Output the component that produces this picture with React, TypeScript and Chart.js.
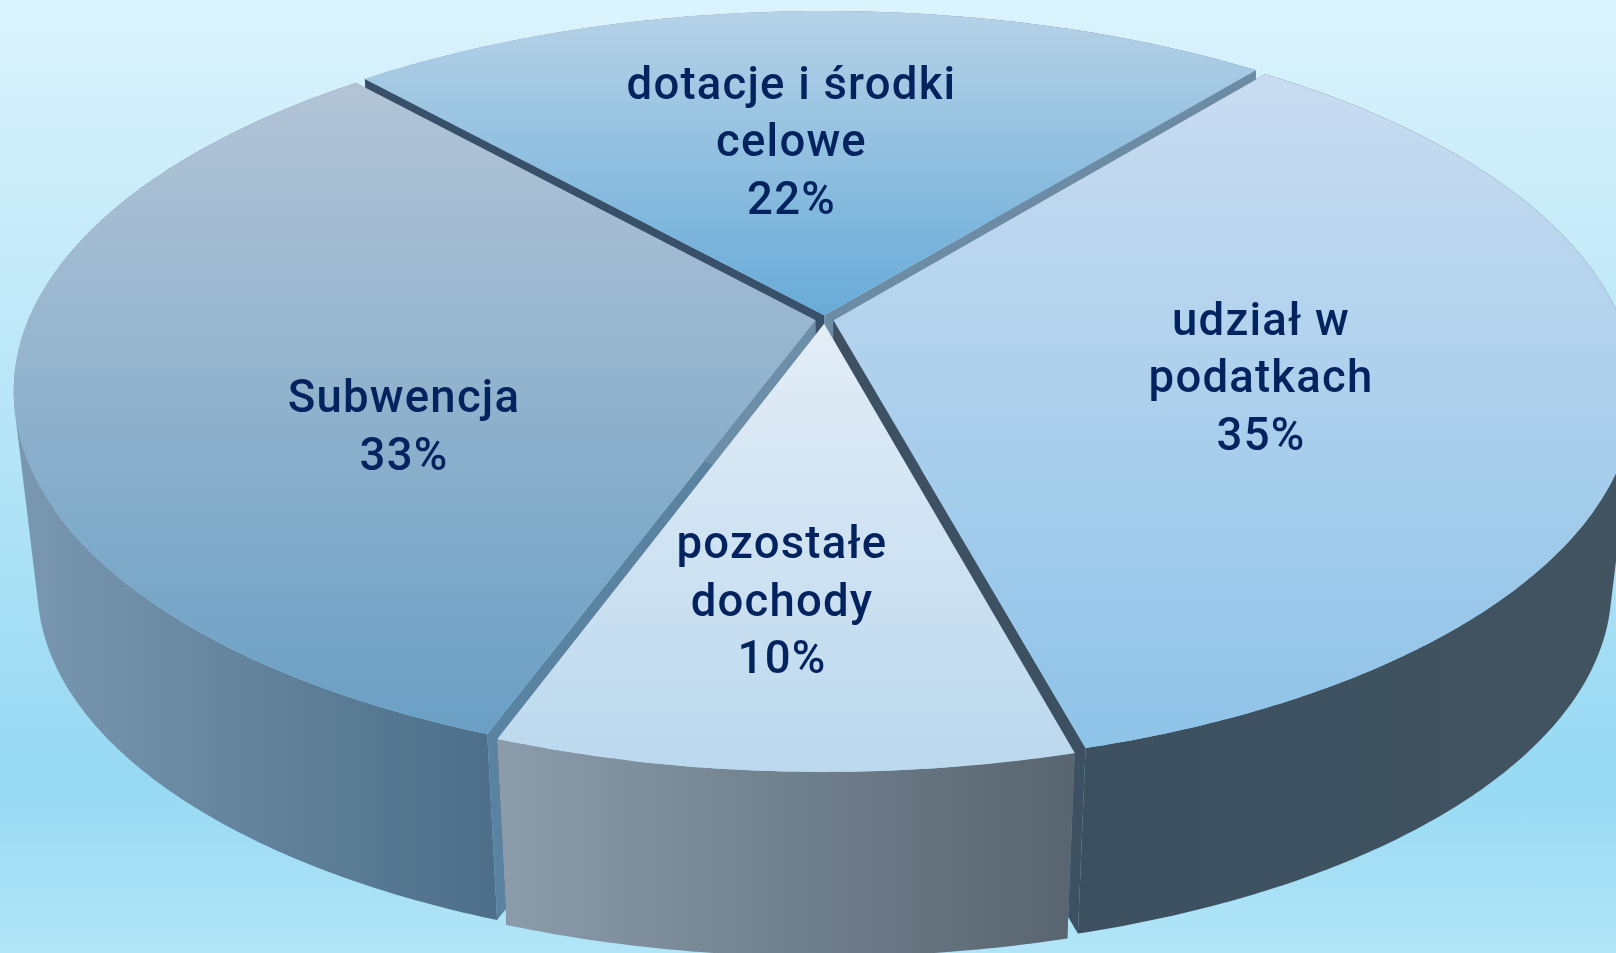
import React, { useEffect, useRef } from "react";
import { Chart, registerables } from "chart.js";

Chart.register(...registerables);

const categories = ["dotacje i środki celowe", "udział w podatkach", "pozostałe dochody", "Subwencja"];
const shares = [22.45, 34.97, 9.74, 32.84];
const labelLines = [
  ["dotacje i środki", "celowe", "22%"],
  ["udział w", "podatkach", "35%"],
  ["pozostałe", "dochody", "10%"],
  ["Subwencja", "33%"],
];
const labelCentres = [
  [791.5, 145],
  [1261, 381],
  [782, 604.5],
  [404, 429.5],
];
const topColours = [
  ["#b6d2e7", "#68abd8"],
  ["#c9dcf1", "#8ec3e8"],
  ["#e3edf6", "#bbd8ee"],
  ["#b3c4d6", "#6a9fc4"],
];
const wallColours = [
  ["#8aa4bb", "#4f7089"],
  ["#3c5060", "#425460"],
  ["#8b9cab", "#586570"],
  ["#7a98b1", "#4d6f89"],
];
const edgeColours = [
  ["#39506a", "#6c8ca5"],
  ["#3d5162", "#3d5162"],
  ["#6c8ca5", "#3d5162"],
  ["#5a83a2", "#6d8ea8"],
];
const drawOrder = [0, 3, 1, 2];

// Projection of the pie's circle into the tilted view
const VIEW = { cx: 824.5, cy: 319.5, a: 787, b: 362.6, q: 0.187, vy: 7080, s: 0.9707 };

type P = [number, number];
const toTop = (u: number, v: number): P => {
  const w = 1 - VIEW.q * v;
  return [VIEW.cx + (VIEW.a * u) / w, VIEW.cy + (VIEW.b * v) / w];
};
const toBottom = (p: P): P => [
  VIEW.cx + (p[0] - VIEW.cx) * VIEW.s,
  VIEW.vy + (p[1] - VIEW.vy) * VIEW.s,
];

const addPolygon = (ctx: CanvasRenderingContext2D, input: P[]) => {
  let area = 0;
  input.forEach((p, i) => {
    const n = input[(i + 1) % input.length];
    area += p[0] * n[1] - n[0] * p[1];
  });
  const pts = area < 0 ? input.slice().reverse() : input;
  pts.forEach((p, i) => (i ? ctx.lineTo(p[0], p[1]) : ctx.moveTo(p[0], p[1])));
  ctx.closePath();
};
const fillPolygon = (ctx: CanvasRenderingContext2D, pts: P[]) => {
  ctx.beginPath();
  addPolygon(ctx, pts);
  ctx.fill();
};

const tiltedPie = {
  id: "tiltedPie",
  beforeDatasetDraw(chart: any) {
    const ctx: CanvasRenderingContext2D = chart.ctx;
    const meta = chart.getDatasetMeta(0);
    ctx.save();
    for (const i of drawOrder) {
      const arc = meta.data[i];
      const { startAngle, endAngle, outerRadius } = arc.getProps(["startAngle", "endAngle", "outerRadius"], true);
      const off = (arc.options.offset || 0) / outerRadius;
      const mid = (startAngle + endAngle) / 2;
      const ox = off * Math.cos(mid);
      const oy = off * Math.sin(mid);
      const rim: P[] = [];
      const steps = Math.ceil((endAngle - startAngle) / 0.01);
      for (let k = 0; k <= steps; k++) {
        const t = startAngle + ((endAngle - startAngle) * k) / steps;
        rim.push(toTop(ox + Math.cos(t), oy + Math.sin(t)));
      }
      const apex = toTop(ox, oy);
      const apexB = toBottom(apex);
      const rimB = rim.map(toBottom);

      // outer wall: one path of strips between the top rim and the bottom rim
      const drawOuter = () => {
        const xs = rim.map((p) => p[0]);
        const wall = ctx.createLinearGradient(Math.min(...xs), 0, Math.max(...xs), 0);
        wall.addColorStop(0, wallColours[i][0]);
        wall.addColorStop(1, wallColours[i][1]);
        ctx.fillStyle = wall;
        ctx.beginPath();
        for (let k = 0; k < steps; k++) {
          addPolygon(ctx, [rim[k], rim[k + 1], rimB[k + 1], rimB[k]]);
        }
        ctx.fill();
      };
      // inner walls, seen in the gaps between slices
      const drawInner = () => {
        ctx.fillStyle = edgeColours[i][0];
        fillPolygon(ctx, [apex, rim[0], rimB[0], apexB]);
        ctx.fillStyle = edgeColours[i][1];
        fillPolygon(ctx, [apex, rim[steps], rimB[steps], apexB]);
      };
      // a slice at the back shows its inner walls in front of its outer wall,
      // a slice at the front hides them behind it
      if (Math.sin(mid) < 0) {
        drawOuter();
        drawInner();
      } else {
        drawInner();
        drawOuter();
      }

      // top face
      const poly = [apex, ...rim];
      const ys = poly.map((p) => p[1]);
      const top = ctx.createLinearGradient(0, Math.min(...ys), 0, Math.max(...ys));
      top.addColorStop(0, topColours[i][0]);
      top.addColorStop(1, topColours[i][1]);
      ctx.fillStyle = top;
      fillPolygon(ctx, poly);
    }
    ctx.restore();
    return false;
  },
  afterDatasetsDraw(chart: any) {
    const ctx: CanvasRenderingContext2D = chart.ctx;
    ctx.save();
    ctx.fillStyle = "#03235f";
    ctx.font = '500 45.5px Roboto, sans-serif';
    (ctx as any).letterSpacing = "1.2px";
    ctx.textAlign = "center";
    ctx.textBaseline = "middle";
    labelLines.forEach((lines, i) => {
      const [x, y] = labelCentres[i];
      lines.forEach((line, k) => {
        ctx.fillText(line, x, y + (k - (lines.length - 1) / 2) * 57.5);
      });
    });
    ctx.restore();
  },
};

export default function App() {
  const ref = useRef<HTMLCanvasElement>(null);
  useEffect(() => {
    const chart = new Chart(ref.current!, {
      type: "pie",
      data: {
        labels: categories,
        datasets: [{ data: shares, offset: 5.5, borderWidth: 0 }],
      },
      options: {
        animation: false,
        responsive: false,
        rotation: -41.8,
        layout: { padding: 0 },
        plugins: { legend: { display: false }, tooltip: { enabled: false } },
      },
      plugins: [tiltedPie],
    } as any);
    return () => chart.destroy();
  }, []);
  return (
    <div
      style={{
        position: "fixed",
        left: 0,
        top: 0,
        width: 1616,
        height: 953,
        overflow: "hidden",
        background: "linear-gradient(180deg, #dbf3fc 0%, #97d9f3 82%, #b2e5f8 100%)",
      }}
    >
      <canvas ref={ref} width={1616} height={953} style={{ display: "block" }} />
    </div>
  );
}
